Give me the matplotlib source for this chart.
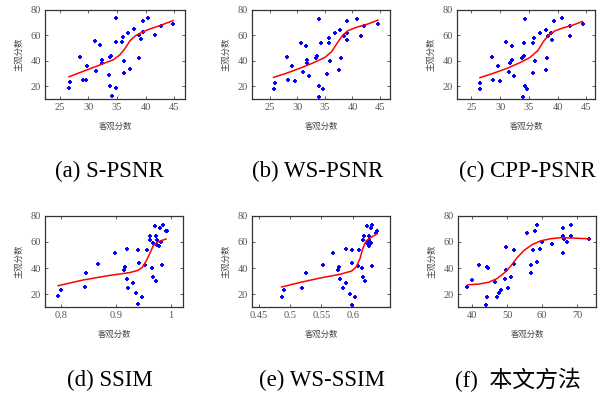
import matplotlib
matplotlib.use("Agg")
import matplotlib.pyplot as plt

W, H = 601, 398

# ---------------- data ----------------
# (a) S-PSNR
a_x = [26.6, 26.7, 28.6, 29.0, 29.6, 29.7, 31.1, 31.4, 32.1, 32.3, 32.4, 33.6, 33.7, 34.0,
       33.7, 34.2, 34.8, 34.9, 34.9, 35.8, 36.1, 36.2, 36.2, 37.0, 37.3, 38.0, 38.8, 38.9,
       39.2, 39.5, 39.5, 40.4, 41.7, 42.7, 44.8]
a_y = [18.3, 23.2, 43.1, 25.2, 24.7, 36.1, 55.0, 31.7, 52.0, 40.6, 38.3, 28.7, 42.6, 43.8,
       20.5, 12.1, 54.5, 73.1, 18.3, 54.5, 58.4, 40.1, 30.4, 61.9, 33.1, 64.6, 59.7, 42.3,
       56.7, 71.3, 62.2, 73.6, 60.2, 67.4, 68.8]
a_fx = [26.6, 29.1, 32.0, 34.4, 35.5, 36.4, 37.3, 38.2, 39.0, 40.5, 42.5, 44.8]
a_fy = [27.4, 31.7, 36.6, 40.8, 44.5, 49.5, 55.7, 59.4, 61.4, 64.4, 67.4, 71.3]

# (b) WS-PSNR
b_x = [25.85, 25.97, 28.15, 28.3, 29.06, 29.6, 30.6, 30.97, 31.5, 31.8, 31.85, 32.15, 33.4,
       33.6, 34.0, 34.0, 33.85, 34.3, 34.7, 35.4, 35.7, 35.7, 35.9, 36.8, 37.5, 37.8, 38.0,
       38.5, 39.0, 39.1, 39.1, 40.9, 41.5, 42.0, 44.6]
b_y = [17.8, 22.7, 42.5, 24.7, 35.8, 24.4, 54.1, 31.1, 51.1, 40.2, 38.3, 28.1, 42.0, 43.5,
       72.8, 20.2, 11.9, 53.8, 17.8, 29.9, 57.8, 53.6, 39.5, 61.5, 32.6, 63.7, 41.7, 59.3,
       56.0, 70.9, 61.5, 72.8, 59.5, 66.9, 68.4]
b_fx = [25.7, 28.0, 30.5, 32.9, 35.0, 36.2, 37.4, 38.3, 39.2, 40.8, 42.6, 44.6]
b_fy = [26.9, 30.1, 34.1, 38.3, 42.5, 46.9, 54.8, 60.2, 63.5, 66.2, 68.4, 71.6]

# (c) CPP-PSNR
c_x = [26.45, 26.5, 28.6, 28.8, 29.6, 30.0, 31.1, 31.5, 32.0, 32.1, 31.8, 32.4, 33.8, 34.1,
       34.3, 34.3, 34.0, 34.2, 34.6, 35.7, 35.96, 35.8, 36.1, 36.9, 37.9, 37.9, 38.2, 38.4,
       39.0, 39.3, 38.9, 40.8, 42.1, 42.1, 44.4]
c_y = [18.0, 22.7, 42.5, 24.9, 35.8, 24.4, 54.3, 31.1, 51.1, 40.2, 38.3, 28.1, 42.2, 43.7,
       72.8, 20.5, 11.9, 54.1, 17.8, 30.1, 57.8, 53.8, 39.5, 61.5, 32.8, 64.0, 42.0, 59.0,
       56.0, 70.9, 61.8, 73.0, 59.5, 66.9, 68.4]
c_fx = [26.5, 28.8, 31.1, 33.4, 35.2, 36.6, 37.5, 38.4, 39.5, 41.0, 42.7, 44.3]
c_fy = [26.7, 30.1, 33.8, 38.3, 42.5, 48.1, 54.8, 59.8, 63.2, 65.7, 67.9, 70.6]

# (d) SSIM
d_x = [0.794, 0.800, 0.843, 0.845, 0.867, 0.898, 0.914, 0.916, 0.919, 0.920, 0.921, 0.930,
       0.937, 0.939, 0.940, 0.941, 0.947, 0.952, 0.957, 0.961, 0.962, 0.966, 0.968, 0.968,
       0.971, 0.972, 0.972, 0.974, 0.975, 0.979, 0.980, 0.981, 0.984, 0.986, 0.991, 0.992]
d_y = [18.3, 23.2, 25.2, 36.2, 43.1, 51.5, 38.4, 40.7, 31.3, 54.7, 24.7, 28.4,
       20.5, 12.1, 54.2, 43.9, 18.0, 42.4, 54.2, 61.6, 64.5, 39.9, 33.0, 59.1,
       72.6, 30.3, 64.3, 61.8, 57.9, 56.6, 71.1, 60.3, 42.4, 73.4, 68.2, 68.7]
d_fx = [0.794, 0.840, 0.888, 0.925, 0.940, 0.948, 0.955, 0.962, 0.968, 0.977, 0.991]
d_fy = [26.4, 30.8, 34.3, 36.5, 38.2, 40.7, 45.6, 51.7, 57.4, 60.3, 62.3]

# (e) WS-SSIM
e_x = [0.4866, 0.4908, 0.519, 0.525, 0.553, 0.568, 0.577, 0.578, 0.579, 0.589, 0.584, 0.589,
       0.595, 0.598, 0.599, 0.599, 0.603, 0.608, 0.610, 0.615, 0.616, 0.617, 0.616, 0.620,
       0.622, 0.622, 0.625, 0.625, 0.626, 0.626, 0.627, 0.628, 0.629, 0.630, 0.631, 0.636,
       0.638]
e_y = [18.0, 23.0, 24.9, 36.0, 42.6, 51.5, 38.4, 40.6, 31.3, 54.4, 24.7, 28.1,
       20.2, 11.6, 54.2, 43.6, 18.0, 41.9, 54.2, 39.7, 61.8, 64.3, 32.8, 30.1,
       72.6, 59.3, 64.3, 57.9, 56.6, 61.3, 59.8, 71.1, 59.6, 41.9, 73.1, 67.0,
       68.2]
e_fx = [0.4866, 0.516, 0.548, 0.580, 0.598, 0.605, 0.611, 0.616, 0.621, 0.628, 0.638]
e_fy = [25.4, 28.9, 32.3, 35.2, 37.7, 40.7, 46.8, 55.4, 60.8, 63.3, 66.2]

# (f) proposed method
f_x = [38.7, 40.0, 42.0, 44.4, 44.5, 44.2, 44.1, 46.5, 47.2, 47.8, 48.2, 49.4, 49.7, 49.8,
       50.3, 51.2, 51.9, 52.1, 55.6, 56.8, 56.9, 57.4, 58.0, 58.6, 58.6, 59.5, 60.1, 62.8,
       65.9, 66.0, 66.0, 66.3, 67.1, 68.2, 68.2, 73.3]
f_y = [25.2, 30.4, 42.5, 40.8, 40.0, 18.0, 11.6, 29.0, 18.0, 20.5, 23.2, 31.3, 38.4, 56.4,
       24.8, 33.0, 54.0, 42.7, 67.2, 42.3, 35.9, 54.2, 68.7, 73.4, 44.7, 55.0, 59.7, 58.5,
       64.6, 71.1, 51.9, 62.4, 60.2, 64.6, 72.9, 62.2]
f_fx = [38.9, 41.9, 44.8, 47.1, 49.0, 50.95, 52.9, 54.8, 57.1, 59.5, 62.4, 65.2, 69.0, 73.3]
f_fy = [27.1, 27.6, 29.1, 31.8, 35.7, 41.1, 48.0, 53.4, 57.9, 60.8, 62.5, 63.3, 63.0, 62.5]

captions = ["(a) S-PSNR", "(b) WS-PSNR", "(c) CPP-PSNR", "(d) SSIM", "(e) WS-SSIM", "(f)  本文方法"]
xlabel = "客观分数"
ylabel = "主观分数"
yticks = [20, 40, 60, 80]

# ---------------- layout ----------------
panels = [
    dict(box=(45, 9.5, 185, 99), x=a_x, y=a_y, fx=a_fx, fy=a_fy, xlim=(22.4, 46.9),
         xt=[25, 30, 35, 40, 45], xtl=["25", "30", "35", "40", "45"], cap=(109, 171)),
    dict(box=(252, 9.5, 390, 99), x=b_x, y=b_y, fx=b_fx, fy=b_fy, xlim=(21.8, 46.8),
         xt=[25, 30, 35, 40, 45], xtl=["25", "30", "35", "40", "45"], cap=(318, 171)),
    dict(box=(457, 9.5, 595, 99), x=c_x, y=c_y, fx=c_fx, fy=c_fy, xlim=(22.5, 46.5),
         xt=[25, 30, 35, 40, 45], xtl=["25", "30", "35", "40", "45"], cap=(527, 171)),
    dict(box=(45, 216, 183, 307), x=d_x, y=d_y, fx=d_fx, fy=d_fy, xlim=(0.77, 1.022),
         xt=[0.8, 0.9, 1.0], xtl=["0.8", "0.9", "1"], cap=(110, 380)),
    dict(box=(252, 216, 390, 307), x=e_x, y=e_y, fx=e_fx, fy=e_fy, xlim=(0.4395, 0.659),
         xt=[0.45, 0.5, 0.55, 0.6], xtl=["0.45", "0.5", "0.55", "0.6"], cap=(322, 380)),
    dict(box=(458, 216, 596, 307), x=f_x, y=f_y, fx=f_fx, fy=f_fy, xlim=(36.0, 75.4),
         xt=[40, 50, 60, 70], xtl=["40", "50", "60", "70"], cap=(518, 380)),
]

serif = "Liberation Serif"
cjk = ["Noto Sans CJK SC", "DejaVu Sans"]

fig = plt.figure(figsize=(W / 100, H / 100), dpi=100)
fig.patch.set_facecolor("white")

for i, p in enumerate(panels):
    x0, y0, x1, y1 = p["box"]
    ax = fig.add_axes([x0 / W, 1 - y1 / H, (x1 - x0) / W, (y1 - y0) / H])
    ax.plot(p["x"], p["y"], linestyle="none", marker="+", color="#0000ff",
            markersize=3.4, markeredgewidth=1.4)
    ax.plot(p["fx"], p["fy"], color="#ff0000", linewidth=1.1)
    ax.set_xlim(*p["xlim"])
    ax.set_ylim(10, 80)
    ax.set_xticks(p["xt"])
    ax.set_xticklabels(p["xtl"])
    ax.set_yticks(yticks)
    ax.tick_params(direction="in", length=2, width=0.6, top=True, right=True,
                   labelsize=7.5, colors="#444444", labelcolor="#555555", pad=3)
    for lab in ax.get_xticklabels() + ax.get_yticklabels():
        lab.set_fontfamily(serif)
    for s in ax.spines.values():
        s.set_linewidth(0.9)
        s.set_color("#333333")
    ax.set_xlabel(xlabel, family=cjk, fontsize=6, color="#444444", labelpad=7)
    ax.set_ylabel(ylabel, family=cjk, fontsize=6, color="#444444", labelpad=5)
    cx, cy = p["cap"]
    fig.text(cx / W, 1 - cy / H, captions[i], ha="center", va="center",
             family=[serif, "Noto Sans CJK SC"], fontsize=16.5, color="black")

fig.savefig("out.png", dpi=100, facecolor="white")
